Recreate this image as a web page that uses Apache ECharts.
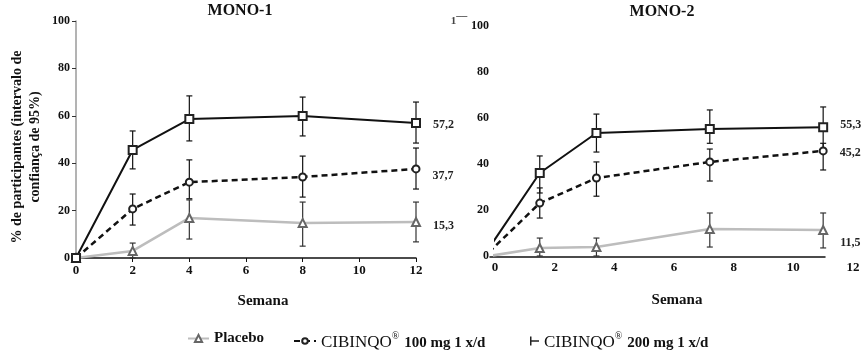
<!DOCTYPE html>
<html>
<head>
<meta charset="utf-8">
<script src="https://cdn.jsdelivr.net/npm/echarts@6/dist/echarts.min.js"></script>
<style>
  html, body { margin: 0; background: #fff; }
  #chart { width: 862px; height: 351px; }
</style>
</head>
<body>
<div id="chart"></div>
<script>
const FONT = "'Liberation Serif', 'DejaVu Serif', serif";

// series names (legend keys)
const seriesNames = ['Placebo', 'CIBINQO 100', 'CIBINQO 200'];
const brand = 'CIBINQO';
const doseTexts = ['100 mg 1 x/d', '200 mg 1 x/d'];

// MONO-1
const mono1Weeks = [0, 2, 4, 8, 12];
const mono1Placebo = [0, 3, 16.9, 14.8, 15.2];
const mono1Dose100 = [0, 20.7, 32.0, 34.2, 37.6];
const mono1Dose200 = [0, 45.6, 58.6, 59.9, 57.0];
const mono1PlaceboCI = [null, [0, 6.3], [8, 24.5], [5, 23.6], [6.8, 23.6]];
const mono1Dose100CI = [null, [13.9, 27], [25, 41.4], [25.7, 43], [29.1, 46.4]];
const mono1Dose200CI = [null, [37.6, 53.6], [49.4, 68.4], [51.5, 67.9], [48.5, 65.8]];
const mono1EndLabels = ['15,3', '37,7', '57,2'];

// MONO-2 (points sit off the printed week ticks in the source figure)
const mono2Weeks = [-0.2, 1.5, 3.4, 7.2, 11.0];
const mono2Placebo = [0, 3.5, 3.9, 11.7, 11.3];
const mono2Dose100 = [1.7, 23, 33.9, 40.9, 45.7];
const mono2Dose200 = [3.5, 36.1, 53.5, 55.2, 56];
const mono2PlaceboCI = [null, [0, 7.8], [0, 7.8], [3.9, 18.7], [3.5, 18.7]];
const mono2Dose100CI = [null, [16.5, 29.6], [26, 40.9], [32.6, 46.5], [37.4, 49]];
const mono2Dose200CI = [null, [27.4, 43.5], [45.2, 61.7], [49, 63.5], [46.5, 64.8]];
const mono2EndLabels = ['11,5', '45,2', '55,3'];

const yMin = 0, yMax = 100, yStep = 20;
const xMin = 0, xMax = 12, xStep = 2;

const styles = [
  { line: '#bdbdbd', mark: '#666', symbol: 'emptyTriangle', size: 8, type: 'solid', width: 2.5, bar: '#333' },
  { line: '#111', mark: '#222', symbol: 'emptyCircle', size: 7, type: [6, 4], width: 2.5, bar: '#111' },
  { line: '#111', mark: '#222', symbol: 'emptyRect', size: 8, type: 'solid', width: 2, bar: '#111' }
];

function lineSeries(idx, xs, ys, grid, endLabel, labelOffset, labelDist, hideFirst) {
  const st = styles[idx];
  return {
    name: seriesNames[idx], type: 'line', xAxisIndex: grid, yAxisIndex: grid, z: 3,
    clip: false, animation: false,
    symbol: st.symbol, symbolSize: st.size,
    itemStyle: { color: st.mark, borderWidth: 1 },
    lineStyle: { color: st.line, width: st.width, type: st.type },
    data: xs.map((x, i) => {
      const item = { value: [x, ys[i]] };
      if (i === 0 && hideFirst) item.symbol = 'none';
      if (i === xs.length - 1) {
        item.label = {
          show: true, position: 'right', distance: labelDist, offset: labelOffset,
          formatter: endLabel, fontFamily: FONT, fontWeight: 'bold', fontSize: 12, color: '#222'
        };
      }
      return item;
    })
  };
}

function errorSeries(idx, xs, cis, grid) {
  const color = styles[idx].bar;
  return {
    type: 'custom', xAxisIndex: grid, yAxisIndex: grid, z: 2, silent: true, animation: false,
    encode: { x: 0, y: [1, 2] },
    data: xs.map((x, i) => cis[i] ? [x, cis[i][0], cis[i][1]] : null).filter(Boolean),
    renderItem(params, api) {
      const top = api.coord([api.value(0), api.value(2)]);
      const bot = api.coord([api.value(0), api.value(1)]);
      const w = 3;
      const s = { stroke: color, lineWidth: 1.2 };
      return {
        type: 'group', children: [
          { type: 'line', shape: { x1: top[0], y1: top[1], x2: bot[0], y2: bot[1] }, style: s },
          { type: 'line', shape: { x1: top[0] - w, y1: top[1], x2: top[0] + w, y2: top[1] }, style: s },
          { type: 'line', shape: { x1: bot[0] - w, y1: bot[1], x2: bot[0] + w, y2: bot[1] }, style: s }
        ]
      };
    }
  };
}

const tickFont = { fontFamily: FONT, fontWeight: 'bold', fontSize: 12, color: '#111' };
const richLegend = {
  a: { fontFamily: FONT, fontSize: 17, color: '#111', lineHeight: 20, verticalAlign: 'bottom' },
  r: { fontFamily: FONT, fontSize: 10, color: '#111', lineHeight: 20, verticalAlign: 'top', padding: [0, 1, 0, 0] },
  b: { fontFamily: FONT, fontSize: 15, fontWeight: 'bold', color: '#111', lineHeight: 20, verticalAlign: 'bottom' }
};

const chart = echarts.init(document.getElementById('chart'), null, { renderer: 'canvas' });
chart.setOption({
  backgroundColor: '#fff',
  animation: false,
  grid: [
    { left: 76, top: 21, width: 340, height: 237 },
    { left: 495, top: 26, width: 358, height: 230 },
    { left: 490, top: 26, width: 335, height: 231 }
  ],
  xAxis: [
    {
      gridIndex: 0, type: 'value', min: xMin, max: xMax, interval: xStep,
      axisLine: { lineStyle: { color: '#111', width: 1.5 } },
      axisTick: { show: true, length: 4, lineStyle: { color: '#111' } },
      axisLabel: { ...tickFont, fontSize: 13, margin: 6 },
      splitLine: { show: false }
    },
    {
      gridIndex: 1, type: 'value', min: xMin, max: xMax, interval: xStep,
      axisLine: { show: false }, axisTick: { show: false },
      axisLabel: { ...tickFont, fontSize: 13, margin: 5, showMaxLabel: false },
      splitLine: { show: false }
    },
    {
      gridIndex: 2, type: 'value', min: 0, max: 1,
      axisLine: { lineStyle: { color: '#111', width: 1.5 } },
      axisTick: { show: false }, axisLabel: { show: false }, splitLine: { show: false }
    }
  ],
  yAxis: [
    {
      gridIndex: 0, type: 'value', min: yMin, max: yMax, interval: yStep,
      axisLine: { show: true, lineStyle: { color: '#9a9a9a', width: 1.5 } },
      axisTick: { show: true, length: 4, lineStyle: { color: '#333' } },
      axisLabel: { ...tickFont, margin: 6 },
      splitLine: { show: false }
    },
    {
      gridIndex: 1, type: 'value', min: yMin, max: yMax, interval: yStep,
      axisLine: { show: false }, axisTick: { show: false },
      axisLabel: { ...tickFont, margin: 6 },
      splitLine: { show: false }
    },
    { gridIndex: 2, type: 'value', min: 0, max: 1, show: false }
  ],
  legend: [
    {
      left: 182, top: 326, itemWidth: 21, itemHeight: 9, selectedMode: false,
      data: [seriesNames[0]],
      textStyle: { fontFamily: FONT, fontWeight: 'bold', fontSize: 15, color: '#111' }
    },
    {
      left: 288, top: 326, itemWidth: 22, itemHeight: 7, selectedMode: false,
      data: [seriesNames[1]],
      formatter: () => `{a|${brand}}{r|®}{b| ${doseTexts[0]}}`,
      textStyle: { rich: richLegend }
    },
    {
      left: 525, top: 326, itemWidth: 9, itemHeight: 10, selectedMode: false,
      data: [{ name: seriesNames[2], icon: 'path://M0,0h2v12h-2zM0,5h12v2h-12z' }],
      formatter: () => `{a|${brand}}{r|®}{b| ${doseTexts[1]}}`,
      textStyle: { rich: richLegend }
    }
  ],
  graphic: [
    { type: 'text', x: 240, y: 11, style: { text: 'MONO-1', font: `bold 16px ${FONT}`, fill: '#111', align: 'center', verticalAlign: 'middle' } },
    { type: 'text', x: 662, y: 12, style: { text: 'MONO-2', font: `bold 16px ${FONT}`, fill: '#111', align: 'center', verticalAlign: 'middle' } },
    { type: 'text', x: 263, y: 301, style: { text: 'Semana', font: `bold 15px ${FONT}`, fill: '#111', align: 'center', verticalAlign: 'middle' } },
    { type: 'text', x: 677, y: 300, style: { text: 'Semana', font: `bold 15px ${FONT}`, fill: '#111', align: 'center', verticalAlign: 'middle' } },
    { type: 'text', x: 853, y: 268, style: { text: '12', font: `bold 13px ${FONT}`, fill: '#111', align: 'center', verticalAlign: 'middle' } },
    { type: 'text', x: 459, y: 21, style: { text: '1¯¯', font: `bold 11px ${FONT}`, fill: '#444', align: 'center', verticalAlign: 'middle' } },
    {
      type: 'text', x: 26, y: 147, rotation: Math.PI / 2,
      style: {
        text: '% de participantes (intervalo de\nconfiança de 95%)',
        font: `bold 14px ${FONT}`, lineHeight: 18, fill: '#111', align: 'center', verticalAlign: 'middle'
      }
    }
  ],
  series: [
    errorSeries(0, mono1Weeks, mono1PlaceboCI, 0),
    errorSeries(1, mono1Weeks, mono1Dose100CI, 0),
    errorSeries(2, mono1Weeks, mono1Dose200CI, 0),
    lineSeries(0, mono1Weeks, mono1Placebo, 0, mono1EndLabels[0], [0, 4], 12, false),
    lineSeries(1, mono1Weeks, mono1Dose100, 0, mono1EndLabels[1], [0, 7], 12, false),
    lineSeries(2, mono1Weeks, mono1Dose200, 0, mono1EndLabels[2], [0, 2], 12, false),
    errorSeries(0, mono2Weeks, mono2PlaceboCI, 1),
    errorSeries(1, mono2Weeks, mono2Dose100CI, 1),
    errorSeries(2, mono2Weeks, mono2Dose200CI, 1),
    lineSeries(0, mono2Weeks, mono2Placebo, 1, mono2EndLabels[0], [0, 13], 12, true),
    lineSeries(1, mono2Weeks, mono2Dose100, 1, mono2EndLabels[1], [0, 2], 12, true),
    lineSeries(2, mono2Weeks, mono2Dose200, 1, mono2EndLabels[2], [0, -2], 12, true)
  ]
});
</script>
</body>
</html>
